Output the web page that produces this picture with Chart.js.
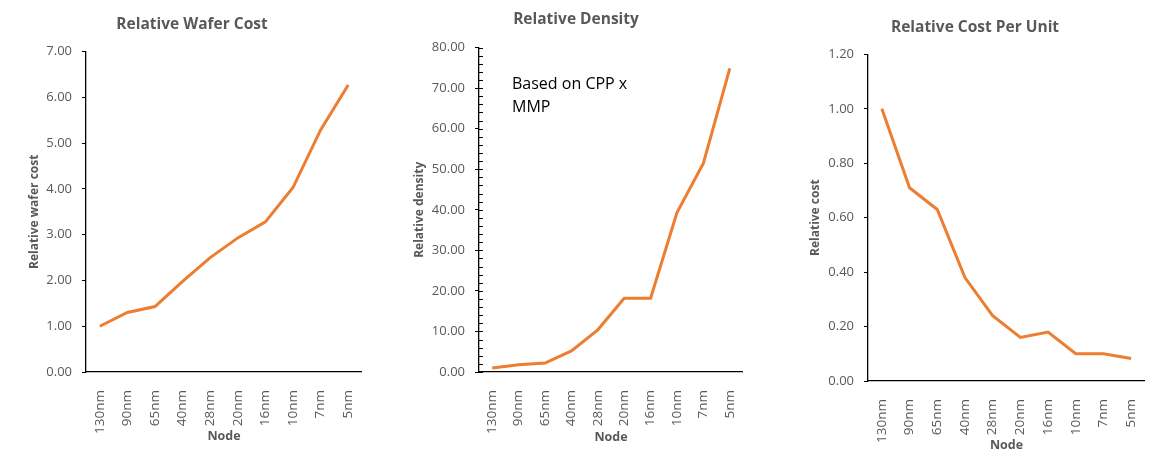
<!DOCTYPE html>
<html>
<head>
<meta charset="utf-8">
<script src="https://cdn.jsdelivr.net/npm/chart.js@4.4.0/dist/chart.umd.min.js"></script>
<style>
  body { margin: 0; background: #fff; width: 1174px; height: 457px; overflow: hidden; position: relative; }
  .box { position: absolute; top: 0; height: 457px; }
</style>
</head>
<body>
<div class="box" style="left:22px;width:340px"><canvas id="waferChart"></canvas></div>
<div class="box" style="left:409px;width:334px"><canvas id="densityChart"></canvas></div>
<div class="box" style="left:805px;width:340px"><canvas id="costChart"></canvas></div>
<script>
const nodes = ['130nm', '90nm', '65nm', '40nm', '28nm', '20nm', '16nm', '10nm', '7nm', '5nm'];
const waferCost = [1.00, 1.30, 1.43, 1.98, 2.50, 2.93, 3.28, 4.03, 5.29, 6.27];
const density = [1.0, 1.8, 2.2, 5.2, 10.4, 18.2, 18.2, 39.3, 51.5, 74.9];
const costPerUnit = [1.00, 0.71, 0.63, 0.38, 0.24, 0.16, 0.18, 0.10, 0.10, 0.083];

const FONT = "'Open Sans', 'Liberation Sans', sans-serif";
const GREY = '#595959';
const ORANGE = '#ED7D31';

// short inward tick marks for the density axis (Excel minor ticks)
const minorTicks = {
  id: 'minorTicks',
  afterDraw(chart, args, opts) {
    if (!opts.enabled) return;
    const y = chart.scales.y;
    const ctx = chart.ctx;
    ctx.save();
    ctx.strokeStyle = '#000';
    ctx.lineWidth = 1;
    for (let v = y.min; v <= y.max + 0.001; v += opts.step) {
      const py = Math.round(y.getPixelForValue(v)) + 0.5;
      ctx.beginPath();
      ctx.moveTo(y.right, py);
      ctx.lineTo(y.right + 4, py);
      ctx.stroke();
    }
    ctx.restore();
  }
};

const noteText = {
  id: 'noteText',
  afterDraw(chart, args, opts) {
    if (!opts.lines) return;
    const ctx = chart.ctx;
    ctx.save();
    ctx.fillStyle = '#000';
    ctx.font = '16px ' + FONT;
    ctx.textBaseline = 'middle';
    opts.lines.forEach((t, i) => {
      ctx.fillText(t, chart.chartArea.left + 33, 84 + i * 23);
    });
    ctx.restore();
  }
};

function makeChart(id, values, cfg) {
  const ctx = document.getElementById(id).getContext('2d');
  return new Chart(ctx, {
    type: 'line',
    data: {
      labels: nodes,
      datasets: [{
        data: values,
        borderColor: ORANGE,
        borderWidth: 3,
        pointRadius: 0,
        tension: 0,
        fill: false
      }]
    },
    options: {
      responsive: true,
      maintainAspectRatio: false,
      animation: false,
      layout: { padding: 0 },
      plugins: {
        legend: { display: false },
        tooltip: { enabled: false },
        title: {
          display: true,
          text: cfg.title,
          color: GREY,
          font: { family: FONT, size: 15.5, weight: 'bold', lineHeight: 1.2 },
          padding: { top: cfg.titleTop, bottom: cfg.titleBottom }
        },
        minorTicks: { enabled: !!cfg.minorStep, step: cfg.minorStep || 1 },
        noteText: { lines: cfg.note }
      },
      scales: {
        x: {
          offset: true,
          grid: { display: false },
          border: { display: true, color: '#000', width: 1.3 },
          ticks: {
            color: GREY,
            font: { family: FONT, size: 13.5 },
            minRotation: 90,
            maxRotation: 90,
            padding: 10,
            autoSkip: false
          },
          title: {
            display: true,
            text: 'Node',
            color: GREY,
            font: { family: FONT, size: 12.5, weight: 'bold', lineHeight: 1.2 },
            padding: { top: 0, bottom: cfg.nodeBottom }
          },
          afterFit(scale) {
            scale.height = cfg.xHeight;
            scale.paddingLeft = 0;
            scale.paddingRight = 0;
          }
        },
        y: {
          min: 0,
          max: cfg.max,
          border: { display: true, color: '#000', width: 1.3 },
          grid: {
            drawOnChartArea: false,
            tickLength: 4,
            color: c => (cfg.isMajor(c.tick.value) ? '#000' : 'rgba(0,0,0,0)')
          },
          ticks: {
            stepSize: cfg.step,
            color: GREY,
            font: { family: FONT, size: 13 },
            padding: 10,
            autoSkip: false,
            callback: v => (cfg.isMajor(v) ? v.toFixed(2) : '')
          },
          title: {
            display: true,
            text: cfg.yTitle,
            color: GREY,
            font: { family: FONT, size: 12, weight: 'bold', lineHeight: 1.2 },
            padding: { top: cfg.yTitlePad, bottom: 0 }
          },
          afterFit(scale) { scale.width = cfg.yWidth; }
        }
      }
    },
    plugins: [minorTicks, noteText]
  });
}

makeChart('waferChart', waferCost, {
  title: 'Relative Wafer Cost', titleTop: 15, titleBottom: 18,
  max: 7, step: 1, isMajor: () => true,
  yTitle: 'Relative wafer cost', yTitlePad: 5, yWidth: 64,
  xHeight: 85, nodeBottom: 12.8
});

makeChart('densityChart', density, {
  title: 'Relative Density', titleTop: 10.5, titleBottom: 18.5,
  max: 80, step: 2, minorStep: 2,
  isMajor: v => Math.abs(v % 10) < 0.001,
  yTitle: 'Relative density', yTitlePad: 3, yWidth: 70,
  xHeight: 85, nodeBottom: 12.5,
  note: ['Based on CPP x', 'MMP']
});

makeChart('costChart', costPerUnit, {
  title: 'Relative Cost Per Unit', titleTop: 18.3, titleBottom: 17.5,
  max: 1.2, step: 0.2, isMajor: () => true,
  yTitle: 'Relative cost', yTitlePad: 3, yWidth: 63,
  xHeight: 76, nodeBottom: 3.8
});
</script>
</body>
</html>
